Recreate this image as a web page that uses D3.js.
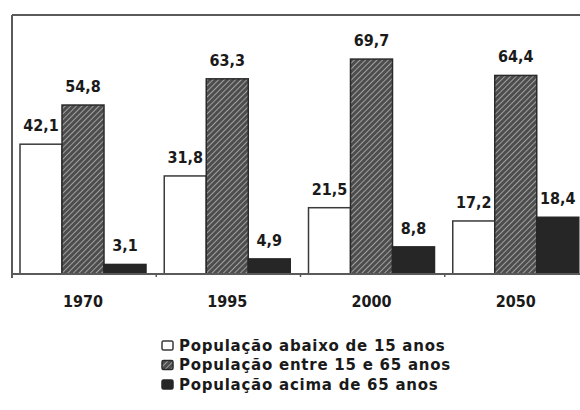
<!DOCTYPE html>
<html>
<head>
<meta charset="utf-8">
<script src="https://cdn.jsdelivr.net/npm/d3@7"></script>
<style>
  html, body { margin: 0; padding: 0; background: #fff; }
  svg { display: block; }
  .val, .year { font-family: "DejaVu Sans Condensed", "DejaVu Sans", sans-serif; font-weight: bold; font-size: 16px; fill: #1a1a1a; }
  .leg { font-family: "DejaVu Sans", sans-serif; font-weight: bold; font-size: 15px; letter-spacing: 0.75px; fill: #1a1a1a; }
</style>
</head>
<body>
<svg id="chart" width="580" height="410"></svg>
<script>
// Population share by age group (%)
const years = ["1970", "1995", "2000", "2050"];
const under15 = [42.1, 31.8, 21.5, 17.2];
const from15to65 = [54.8, 63.3, 69.7, 64.4];
const over65 = [3.1, 4.9, 8.8, 18.4];
const seriesKeys = ["under15", "from15to65", "over65"];
const seriesNames = [
  "População abaixo de 15 anos",
  "População entre 15 e 65 anos",
  "População acima de 65 anos"
];
const seriesValues = { under15, from15to65, over65 };

const svg = d3.select("#chart");

// hatch pattern for the 15-65 group
const defs = svg.append("defs");
const pat = defs.append("pattern")
  .attr("id", "hatch")
  .attr("patternUnits", "userSpaceOnUse")
  .attr("width", 4).attr("height", 4)
  .attr("patternTransform", "rotate(45)");
pat.append("rect").attr("width", 4).attr("height", 4).attr("fill", "#4d4d4d");
pat.append("line").attr("x1", 0).attr("y1", 0).attr("x2", 0).attr("y2", 4)
  .attr("stroke", "#d8d8d8").attr("stroke-width", 1.2);

const fills = { under15: "#ffffff", from15to65: "url(#hatch)", over65: "#262626" };
const strokes = { under15: "#3a3a3a", from15to65: "#2a2a2a", over65: "#262626" };

const baseY = 274, topY = 15, leftX = 12;
const x0 = d3.scaleBand().domain(years).range([leftX, 589]).padding(0);
const x1 = d3.scaleBand().domain(seriesKeys).range([8, 134]).padding(0);
const y = d3.scaleLinear().domain([0, 84]).range([baseY, topY]);

const fmt = v => d3.format(".1f")(v).replace(".", ",");

// frame: top rule, left rule
svg.append("line").attr("x1", leftX).attr("x2", 580).attr("y1", topY).attr("y2", topY)
  .attr("stroke", "#5a5a5a").attr("stroke-width", 2);
svg.append("line").attr("x1", leftX).attr("x2", leftX).attr("y1", topY).attr("y2", baseY + 4)
  .attr("stroke", "#5a5a5a").attr("stroke-width", 2);

const groups = svg.append("g").selectAll("g")
  .data(years.map((yr, i) => ({ yr, i })))
  .join("g")
  .attr("transform", d => `translate(${x0(d.yr)},0)`);

const bars = groups.selectAll("g.bar")
  .data(d => seriesKeys.map(k => ({ key: k, value: seriesValues[k][d.i] })))
  .join("g").attr("class", "bar");

bars.append("rect")
  .attr("x", d => x1(d.key))
  .attr("y", d => y(d.value))
  .attr("width", x1.bandwidth())
  .attr("height", d => baseY - y(d.value))
  .attr("fill", d => fills[d.key])
  .attr("stroke", d => strokes[d.key])
  .attr("stroke-width", 1.5);

bars.append("text")
  .attr("class", "val")
  .attr("x", d => x1(d.key) + x1.bandwidth() / 2)
  .attr("y", d => y(d.value) - 13)
  .attr("text-anchor", "middle")
  .text(d => fmt(d.value));

// baseline drawn on top of the bars
svg.append("line").attr("x1", leftX).attr("x2", 580).attr("y1", baseY).attr("y2", baseY)
  .attr("stroke", "#5a5a5a").attr("stroke-width", 2);

// small ticks between groups
svg.append("g").selectAll("line")
  .data(years.slice(1))
  .join("line")
  .attr("x1", d => x0(d)).attr("x2", d => x0(d))
  .attr("y1", baseY).attr("y2", baseY + 3)
  .attr("stroke", "#5a5a5a").attr("stroke-width", 1.5);

// year labels
svg.append("g").selectAll("text")
  .data(years)
  .join("text")
  .attr("class", "year")
  .attr("x", d => x0(d) + x1("from15to65") + x1.bandwidth() / 2)
  .attr("y", 307)
  .attr("text-anchor", "middle")
  .text(d => d);

// legend
const leg = svg.append("g").selectAll("g")
  .data(seriesKeys.map((k, i) => ({ k, i })))
  .join("g")
  .attr("transform", d => `translate(162,${341 + d.i * 19.5})`);
leg.append("rect")
  .attr("width", 11).attr("height", 9).attr("rx", 1.5)
  .attr("fill", d => fills[d.k])
  .attr("stroke", d => strokes[d.k])
  .attr("stroke-width", 1.5);
leg.append("text")
  .attr("class", "leg")
  .attr("x", 17).attr("y", 9.5)
  .text(d => seriesNames[d.i]);
</script>
</body>
</html>
